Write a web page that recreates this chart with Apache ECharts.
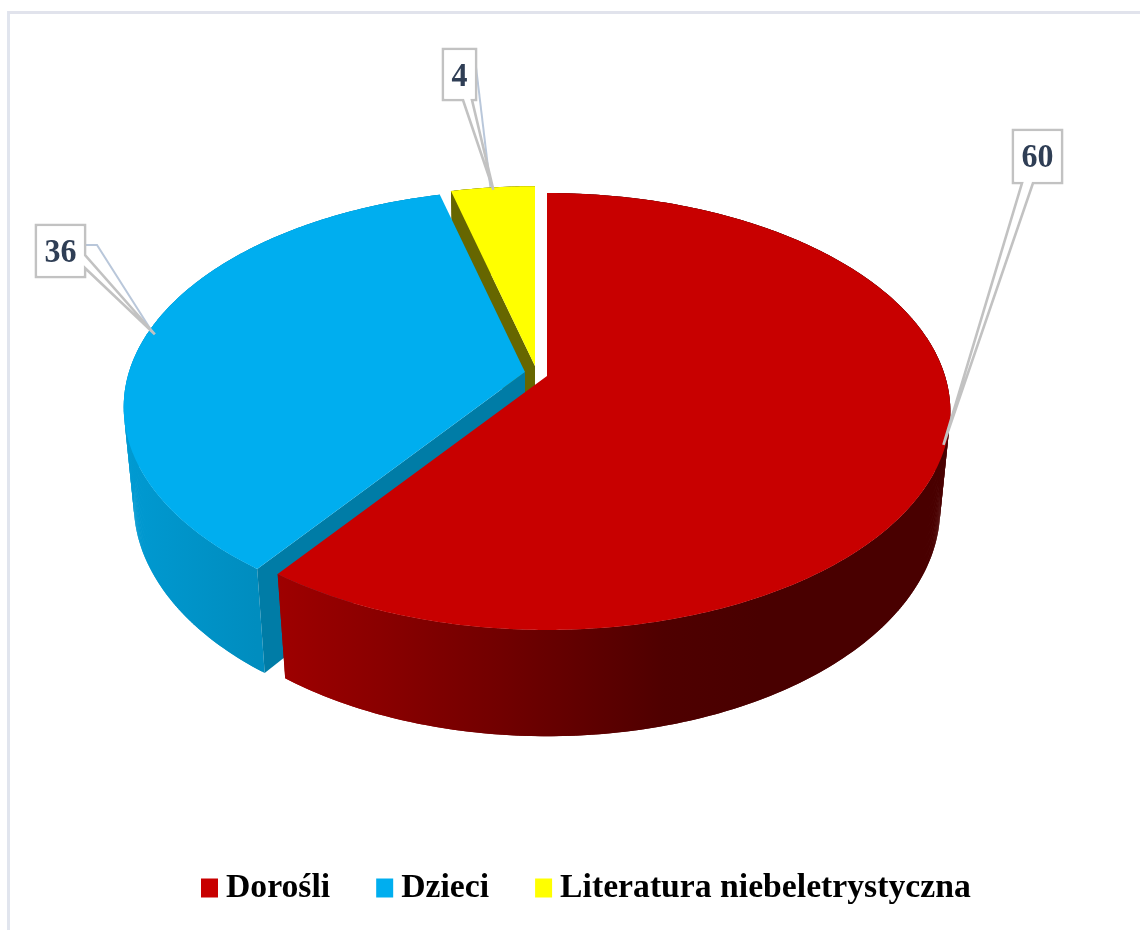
<!DOCTYPE html>
<html><head><meta charset="utf-8">
<style>html,body{margin:0;padding:0;background:#fff}#c{width:1140px;height:930px}</style>
<script src="https://cdn.jsdelivr.net/npm/echarts@6/dist/echarts.min.js"></script>
</head><body><div id="c"></div>
<script>
const categories = ['Dorośli', 'Dzieci', 'Literatura niebeletrystyczna'];
const values = [60, 36, 4];
const colors = ['#c80000', '#00aeef', '#ffff00'];

// Perspective view of the pie
const view = { A: 398, B: 212.7, C: 98, p: 0.1625, q: 0.025 };
const slices = [
  { cx: 547, cy: 376, r: 1, tipR: 0.995, wall: [280, 760, [[0, '#9e0000'], [0.45, '#720000'], [0.8, '#4f0000'], [1, '#490000']]], sideWall: null, z: 30,
    box: [1013, 130, 1062, 183], base: [[1033, 183], [1022, 183]], leader: null, textDy: 2 },
  { cx: 525, cy: 372, r: 0.995, tipR: 0.975, wall: [124, 256, [[0, '#009ad2'], [1, '#008dbf']]], sideWall: '#007ca6', z: 20,
    box: [36, 225, 85, 277], base: [[85, 255], [85, 268]], leader: [[85, 245], [97, 245]], textDy: 2 },
  { cx: 535, cy: 366, r: 0.98, tipR: 0.965, wall: [440, 540, [[0, '#666600'], [1, '#666600']]], sideWall: '#666600', z: 10,
    box: [443, 49, 476, 100], base: [[472, 100], [463, 100]], leader: [[476, 67]], textDy: 3 }
];
const total = values.reduce((a, b) => a + b, 0);
function startOf(i) { let s = 0; for (let k = 0; k < i; k++) s += values[k]; return s / total * 360; }

function project(s, deg, rad, z) {
  const t = deg * Math.PI / 180;
  const u = Math.sin(t) * rad, v = -Math.cos(t) * rad;
  const w = 1 - view.p * v + view.q * z;
  return [s.cx + view.A * u / w, s.cy + (view.B * v + view.C * z) / w];
}
function shape(points, fill) {
  return { type: 'polygon', shape: { points }, style: { fill, stroke: null } };
}
function makeRender(i) {
  return function (params, api) {
    const s = slices[i];
    const val = api.value(0);
    const a0 = startOf(i), a1 = a0 + val / total * 360;
    const kids = [];
    const N = Math.max(8, Math.round((a1 - a0) * 2));
    // outer wall: short overlapping quads sharing one screen-space gradient
    const grad = new echarts.graphic.LinearGradient(s.wall[0], 0, s.wall[1], 0,
      s.wall[2].map(d => ({ offset: d[0], color: d[1] })), true);
    const step = (a1 - a0) / N;
    for (let k = 0; k < N; k++) {
      const t0 = a0 + step * k, t1 = Math.min(a1, t0 + step * 2);
      kids.push(shape([project(s, t0, s.r, 0), project(s, t1, s.r, 0), project(s, t1, s.r, 1), project(s, t0, s.r, 1)], grad));
    }
    // cut wall on the slice's starting radius
    if (s.sideWall) {
      kids.push(shape([[s.cx, s.cy], project(s, a0, s.r, 0), project(s, a0, s.r, 1),
        [s.cx, s.cy + view.C / (1 + view.q)]], s.sideWall));
    }
    // top face
    const upper = [[s.cx, s.cy]];
    for (let k = 0; k <= N; k++) upper.push(project(s, a0 + step * k, s.r, 0));
    kids.push(shape(upper, api.visual('color')));
    // callout
    const tip = project(s, (a0 + a1) / 2, s.tipR, 0);
    if (s.leader) {
      const lead = s.leader.concat([[tip[0] - 3, tip[1] - 3]]);
      kids.push({ type: 'polyline', shape: { points: lead }, style: { fill: null, stroke: '#b9c7da', lineWidth: 2 } });
    }
    const b = s.box;
    let outline;
    if (i === 1) outline = [[b[0], b[1]], [b[2], b[1]], s.base[0], tip, s.base[1], [b[2], b[3]], [b[0], b[3]]];
    else outline = [[b[0], b[1]], [b[2], b[1]], [b[2], b[3]], s.base[0], tip, s.base[1], [b[0], b[3]]];
    kids.push({ type: 'polygon', shape: { points: outline }, style: { fill: 'rgba(255,255,255,0)', stroke: '#c2c2c2', lineWidth: 2.6, lineJoin: 'miter' } });
    kids.push({ type: 'rect', shape: { x: b[0] + 1.3, y: b[1] + 1.3, width: b[2] - b[0] - 2.6, height: b[3] - b[1] - 2.6 }, style: { fill: '#fff' } });
    kids.push({ type: 'text', x: (b[0] + b[2]) / 2, y: (b[1] + b[3]) / 2 + s.textDy, scaleY: 1.08,
      style: { text: String(val), fill: '#2f3e55', font: 'bold 32px "Liberation Serif"', align: 'center', verticalAlign: 'middle' } });
    return { type: 'group', children: kids };
  };
}
const chart = echarts.init(document.getElementById('c'), null, { renderer: 'canvas' });
chart.setOption({
  animation: false,
  backgroundColor: '#fff',
  color: colors,
  legend: {
    data: categories, left: 196, top: 866, icon: 'rect', itemWidth: 17, itemHeight: 19, itemGap: 46,
    textStyle: { fontFamily: 'Liberation Serif', fontWeight: 'bold', fontSize: 33.7, color: '#000', padding: [0, 0, 0, 3] }
  },
  graphic: [
    { type: 'line', shape: { x1: 8.5, y1: 11, x2: 8.5, y2: 930 }, style: { stroke: '#e1e5ee', lineWidth: 3 } },
    { type: 'line', shape: { x1: 8, y1: 12.5, x2: 1140, y2: 12.5 }, style: { stroke: '#e1e3ec', lineWidth: 3 } }
  ],
  series: categories.map((name, i) => ({
    name, type: 'custom', coordinateSystem: 'none', z: slices[i].z, clip: false, silent: true,
    itemStyle: { color: colors[i] }, data: [values[i]], renderItem: makeRender(i)
  }))
});
</script></body></html>
